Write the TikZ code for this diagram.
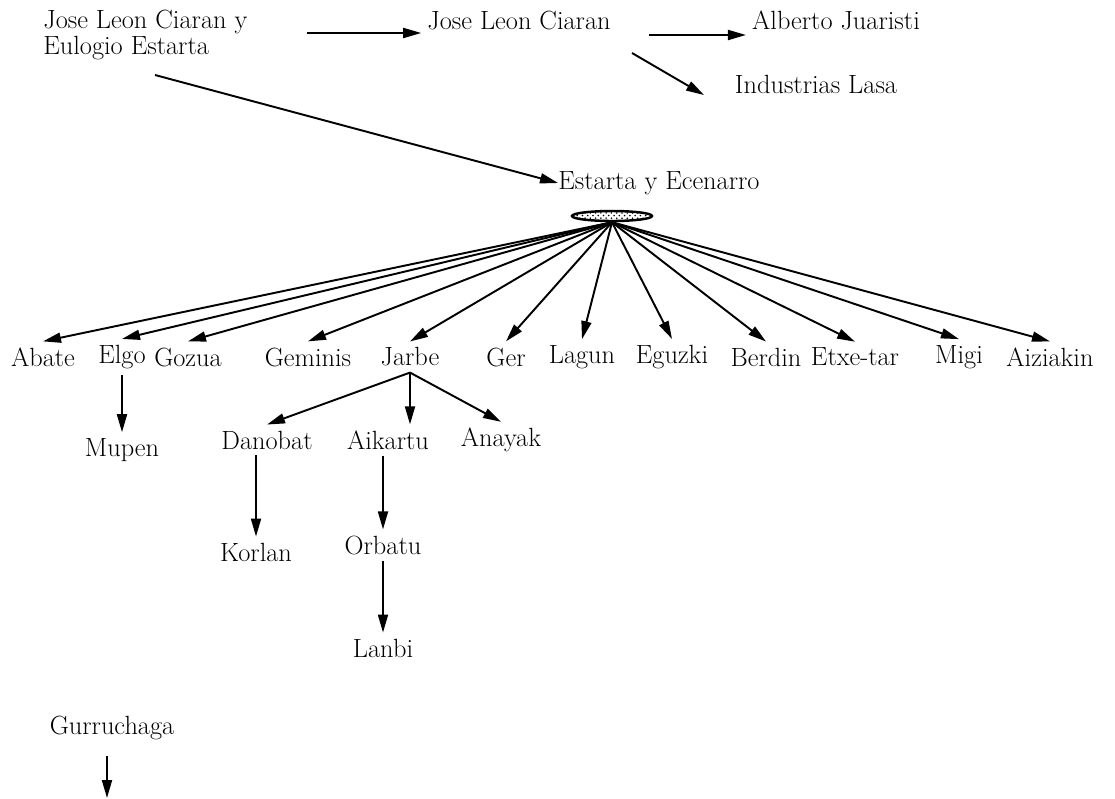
\documentclass[tikz,border=0pt]{standalone}
\usepackage{tikz}
\usetikzlibrary{arrows.meta,shapes.geometric,patterns}

\begin{document}
\begin{tikzpicture}[x=0.02cm,y=-0.02cm,font=\fontsize{15}{17}\selectfont,
		arr/.style={-{Triangle[length=3.6mm,width=2mm]},line width=1.1pt},
		hubshape/.style={ellipse,draw,line width=1.4pt,pattern=crosshatch dots,minimum width=1.6cm,minimum height=0.2cm,inner sep=0pt}]
		\useasboundingbox (0,0) rectangle (1115,798);
		% founders
		\node (founders) at(43,35)[anchor=west,align=left,inner sep=0pt,font=\fontsize{15}{14.5}\selectfont]{Jose Leon Ciaran y\\Eulogio Estarta};
		\node (jlc) at(519,20){Jose Leon Ciaran};
		\node (juaristi) at(836,20){Alberto Juaristi};
		\node (lasa) at(816,84){Industrias Lasa};
		\node (ee) at(558,183)[anchor=west,inner sep=0pt]{Estarta y Ecenarro};
		\node (hub) at(612,216)[hubshape]{};
		\coordinate (f1) at(307,33);
		\coordinate (f2) at(155,75);
		\coordinate (j1) at(649,35);
		\coordinate (j2) at(632,53);
		\coordinate (lasaend) at(704,95);
		\draw[arr] (f1) -- (f1 -| jlc.west);
		\draw[arr] (f2) -- (ee.west);
		\draw[arr] (j1) -- (j1 -| juaristi.west);
		\draw[arr] (j2) -- (lasaend);
		% second level
		\foreach \n/\x/\t in {abate/43/Abate,elgo/122/Elgo,gozua/188/Gozua,geminis/308/Geminis,
			jarbe/410/Jarbe,ger/506/Ger,lagun/582/Lagun,eguzki/672/Eguzki,berdin/766/Berdin,
			etxetar/855/Etxe-tar,migi/959/Migi,aiziakin/1050/Aiziakin}{
			\node (\n) at(\x,357){\t};
			\draw[arr] (hub.south) -- (\n.north);
		}
		% third level
		\node (mupen) at(122,450){Mupen};
		\node (danobat) at(267,440){Danobat};
		\node (aikartu) at(388,440){Aikartu};
		\node (anayak) at(501,440){Anayak};
		\node (korlan) at(256,552){Korlan};
		\node (orbatu) at(383,545){Orbatu};
		\node (lanbi) at(383,648){Lanbi};
		\node (gurruchaga) at(112,728){Gurruchaga};
		\coordinate (gend) at(107,798);
		\draw[arr] (elgo) -- (mupen);
		\draw[arr] (jarbe.south) -- (danobat.north);
		\draw[arr] (jarbe.south) -- (jarbe.south |- aikartu.north);
		\draw[arr] (jarbe.south) -- (anayak.north);
		\draw[arr] (danobat.south -| korlan) -- (korlan.north);
		\draw[arr] (aikartu.south -| orbatu) -- (orbatu.north);
		\draw[arr] (orbatu) -- (lanbi);
		\draw[arr,shorten <=2mm] (gurruchaga.south -| gend) -- (gend);
	\end{tikzpicture}
\end{document}
